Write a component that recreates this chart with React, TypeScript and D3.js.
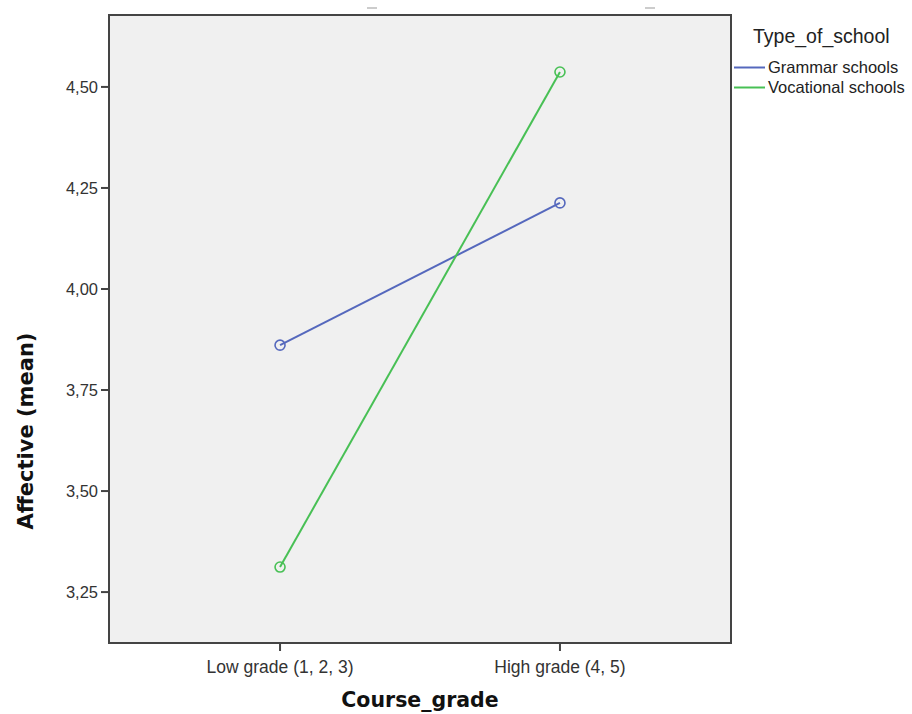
import React from "react";
import * as d3 from "d3";

const categories = ["Low grade (1, 2, 3)", "High grade (4, 5)"];
const seriesNames = ["Grammar schools", "Vocational schools"];
const grammarValues = [3.861, 4.213];
const vocationalValues = [3.312, 4.537];
const yTicks = [3.25, 3.5, 3.75, 4.0, 4.25, 4.5];
const colors = ["#5568bd", "#48c055"];

const W = 912;
const H = 714;
const M = { left: 109, right: 731, top: 15, bottom: 643 };

export default function App() {
  const x = d3
    .scalePoint<string>()
    .domain(categories)
    .range([M.left, M.right])
    .padding(0.611);
  const y = d3.scaleLinear().domain([3.124, 4.678]).range([M.bottom, M.top]);
  const series = [grammarValues, vocationalValues];
  const line = d3
    .line<number>()
    .x((_, i) => x(categories[i]) as number)
    .y((d) => y(d));
  const fmt = (v: number) => v.toFixed(2).replace(".", ",");
  const tickFont = "'Liberation Sans', Arial, sans-serif";
  const boldFont = "'DejaVu Sans', sans-serif";

  return (
    <svg width={W} height={H} style={{ position: "absolute", left: 0, top: 0, background: "#fff" }}>
      <line x1={367} x2={377} y1={8} y2={8} stroke="#bbb" strokeWidth={1.5} />
      <line x1={645} x2={655} y1={8} y2={8} stroke="#bbb" strokeWidth={1.5} />
      <rect
        x={M.left}
        y={M.top}
        width={M.right - M.left}
        height={M.bottom - M.top}
        fill="#f0f0f0"
        stroke="#444"
        strokeWidth={2}
      />
      {yTicks.map((t) => (
        <g key={t}>
          <line x1={M.left - 8} x2={M.left} y1={y(t)} y2={y(t)} stroke="#444" strokeWidth={2} />
          <text
            x={M.left - 11}
            y={y(t)}
            dy="0.35em"
            textAnchor="end"
            fontFamily={tickFont}
            fontSize={16.5}
            fill="#333"
          >
            {fmt(t)}
          </text>
        </g>
      ))}
      {categories.map((c) => (
        <g key={c}>
          <line x1={x(c)} x2={x(c)} y1={M.bottom} y2={M.bottom + 8} stroke="#444" strokeWidth={2} />
          <text
            x={x(c)}
            y={673}
            textAnchor="middle"
            fontFamily={tickFont}
            fontSize={17.5}
            fill="#333"
          >
            {c}
          </text>
        </g>
      ))}
      {series.map((s, i) => (
        <g key={i}>
          <path d={line(s) || ""} fill="none" stroke={colors[i]} strokeWidth={2} />
          {s.map((v, j) => (
            <circle
              key={j}
              cx={x(categories[j])}
              cy={y(v)}
              r={5}
              fill="none"
              stroke={colors[i]}
              strokeWidth={1.6}
            />
          ))}
        </g>
      ))}
      <text
        x={420}
        y={707}
        textAnchor="middle"
        fontFamily={boldFont}
        fontWeight="bold"
        fontSize={20.5}
        fill="#111"
      >
        Course_grade
      </text>
      <text
        transform={`translate(33, 431) rotate(-90)`}
        textAnchor="middle"
        fontFamily={boldFont}
        fontWeight="bold"
        fontSize={21}
        fill="#111"
      >
        Affective (mean)
      </text>
      <text x={753} y={43} fontFamily={tickFont} fontSize={19.5} fill="#222">
        Type_of_school
      </text>
      {seriesNames.map((n, i) => (
        <g key={n}>
          <line x1={734} x2={765} y1={67.5 + i * 20} y2={67.5 + i * 20} stroke={colors[i]} strokeWidth={2} />
          <text x={768} y={67.5 + i * 20} dy="0.36em" fontFamily={tickFont} fontSize={16.5} fill="#222">
            {n}
          </text>
        </g>
      ))}
    </svg>
  );
}
